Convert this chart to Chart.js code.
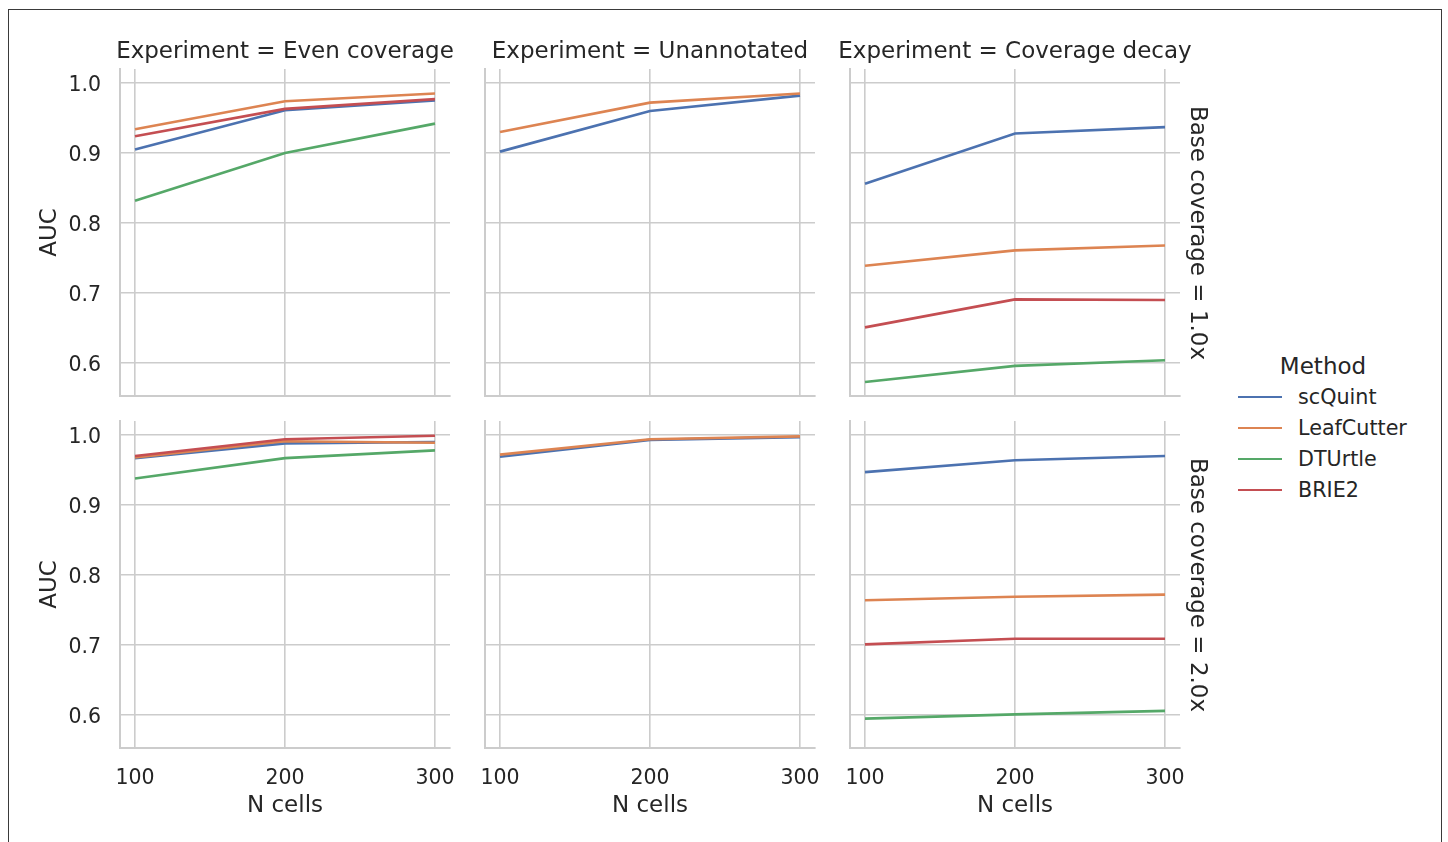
<!DOCTYPE html>
<html>
<head>
<meta charset="utf-8">
<script src="https://cdn.jsdelivr.net/npm/chart.js@4.4.1/dist/chart.umd.min.js"></script>
<style>
    body { margin: 0; background: #fff; width: 1448px; height: 842px; overflow: hidden; position: relative; font-family: 'DejaVu Sans', sans-serif; color: #262626; }
    #marco { position: absolute; left: 8px; top: 9px; width: 1434px; height: 900px; border: 1.5px solid #3a3a3a; box-sizing: border-box; }
    canvas { position: absolute; }
    .texto { position: absolute; white-space: nowrap; line-height: 1; font-size: 23px; }
    .lineaLeyenda { position: absolute; width: 44px; height: 2.6px; }
</style>
</head>
<body>
<div id="marco"></div>
<div id="contenedor"></div>
<script>
const nCells = [100, 200, 300];
const yTicks = [0.6, 0.7, 0.8, 0.9, 1.0];
const metodos = ["scQuint", "LeafCutter", "DTUrtle", "BRIE2"];
const colores = ["#4C72B0", "#DD8452", "#55A868", "#C44E52"];
const experimentos = ["Even coverage", "Unannotated", "Coverage decay"];
const coberturas = ["1.0x", "2.0x"];

// base coverage = 1.0x
const scQuintEven1 = [0.905, 0.961, 0.975];
const leafCutterEven1 = [0.934, 0.974, 0.985];
const dtUrtleEven1 = [0.832, 0.900, 0.942];
const brie2Even1 = [0.924, 0.963, 0.977];
const scQuintUnann1 = [0.902, 0.960, 0.982];
const leafCutterUnann1 = [0.930, 0.972, 0.985];
const scQuintDecay1 = [0.856, 0.928, 0.937];
const leafCutterDecay1 = [0.739, 0.761, 0.768];
const dtUrtleDecay1 = [0.573, 0.596, 0.604];
const brie2Decay1 = [0.651, 0.691, 0.690];

// base coverage = 2.0x
const scQuintEven2 = [0.967, 0.988, 0.990];
const leafCutterEven2 = [0.968, 0.991, 0.989];
const dtUrtleEven2 = [0.938, 0.967, 0.978];
const brie2Even2 = [0.970, 0.994, 0.999];
const scQuintUnann2 = [0.969, 0.993, 0.997];
const leafCutterUnann2 = [0.972, 0.994, 0.998];
const scQuintDecay2 = [0.947, 0.964, 0.970];
const leafCutterDecay2 = [0.764, 0.769, 0.772];
const dtUrtleDecay2 = [0.595, 0.601, 0.606];
const brie2Decay2 = [0.701, 0.709, 0.709];

const paneles = [
    { fila: 0, col: 0, series: [scQuintEven1, leafCutterEven1, dtUrtleEven1, brie2Even1] },
    { fila: 0, col: 1, series: [scQuintUnann1, leafCutterUnann1, null, null] },
    { fila: 0, col: 2, series: [scQuintDecay1, leafCutterDecay1, dtUrtleDecay1, brie2Decay1] },
    { fila: 1, col: 0, series: [scQuintEven2, leafCutterEven2, dtUrtleEven2, brie2Even2] },
    { fila: 1, col: 1, series: [scQuintUnann2, leafCutterUnann2, null, null] },
    { fila: 1, col: 2, series: [scQuintDecay2, leafCutterDecay2, dtUrtleDecay2, brie2Decay2] }
];

// posicion del area de cada panel en la pagina
const izquierdas = [120, 485, 850];
const arribas = [69, 421];
const anchoPanel = 330;
const altoPanel = 327;

const fuenteTicks = { family: "DejaVu Sans", size: 20.5 };
const fuenteTitulos = { family: "DejaVu Sans", size: 23 };
const contenedor = document.getElementById("contenedor");

paneles.forEach(panel => {
    let canvas = document.createElement("canvas");
    canvas.width = 110 + anchoPanel + 30;
    canvas.height = 10 + altoPanel + 90;
    canvas.style.left = (izquierdas[panel.col] - 110) + "px";
    canvas.style.top = (arribas[panel.fila] - 10) + "px";
    contenedor.appendChild(canvas);

    let datasets = [];
    panel.series.forEach((serie, i) => {
        if (!serie) return;
        datasets.push({
            label: metodos[i],
            data: nCells.map((n, j) => ({ x: n, y: serie[j] })),
            borderColor: colores[i],
            borderWidth: 2.6,
            pointRadius: 0,
            tension: 0,
            order: 3 - i
        });
    });

    new Chart(canvas, {
        type: "line",
        data: { datasets: datasets },
        options: {
            responsive: false,
            animation: false,
            devicePixelRatio: 1,
            layout: { padding: { top: 10, right: 30, left: 0, bottom: 0 } },
            plugins: {
                legend: { display: false },
                tooltip: { enabled: false }
            },
            scales: {
                x: {
                    type: "linear",
                    min: 90,
                    max: 310,
                    afterBuildTicks: s => { s.ticks = nCells.map(v => ({ value: v })); },
                    afterFit: s => { s.height = 90; s.paddingLeft = 0; s.paddingRight = 0; },
                    grid: { color: "#cccccc", lineWidth: 1.6, drawTicks: false },
                    border: { display: true, color: "#cccccc", width: 2 },
                    ticks: { display: panel.fila === 1, padding: 18, color: "#262626", font: fuenteTicks },
                    title: { display: panel.fila === 1, text: "N cells", color: "#262626", font: fuenteTitulos, padding: { top: 0, bottom: 18 } }
                },
                y: {
                    type: "linear",
                    min: 0.553,
                    max: 1.02,
                    afterBuildTicks: s => { s.ticks = yTicks.map(v => ({ value: v })); },
                    afterFit: s => { s.width = 110; s.paddingTop = 0; s.paddingBottom = 0; },
                    grid: { color: "#cccccc", lineWidth: 1.6, drawTicks: false },
                    border: { display: true, color: "#cccccc", width: 2 },
                    ticks: { display: panel.col === 0, padding: 19, labelOffset: 3, color: "#262626", font: fuenteTicks, callback: v => v.toFixed(1) },
                    title: { display: panel.col === 0, text: "AUC", color: "#262626", font: fuenteTitulos, padding: { top: 26, bottom: 0 } }
                }
            }
        }
    });
});

// titulos de columnas
experimentos.forEach((exp, i) => {
    contenedor.insertAdjacentHTML("beforeend",
        `<div class="texto" style="left:${izquierdas[i] + anchoPanel / 2}px;top:50px;transform:translate(-50%,-50%);">Experiment = ${exp}</div>`);
});

// titulos de filas
coberturas.forEach((cob, i) => {
    contenedor.insertAdjacentHTML("beforeend",
        `<div class="texto" style="left:1198px;top:${arribas[i] + altoPanel / 2}px;transform:translate(-50%,-50%) rotate(90deg);">Base coverage = ${cob}</div>`);
});

// leyenda
contenedor.insertAdjacentHTML("beforeend",
    `<div class="texto" style="left:1323px;top:366px;transform:translate(-50%,-50%);">Method</div>`);
metodos.forEach((m, i) => {
    let y = 397 + i * 31;
    contenedor.insertAdjacentHTML("beforeend",
        `<div class="lineaLeyenda" style="left:1238px;top:${y - 1.3}px;background:${colores[i]};"></div>` +
        `<div class="texto" style="left:1298px;top:${y}px;transform:translateY(-50%);font-size:20.7px;">${m}</div>`);
});
</script>
</body>
</html>
